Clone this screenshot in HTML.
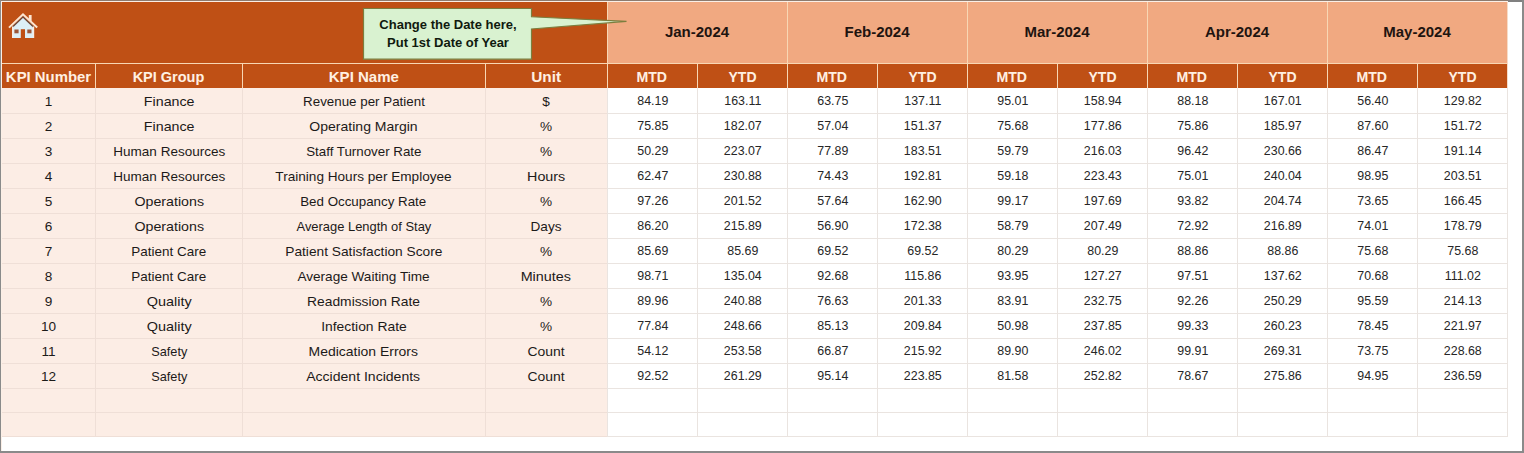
<!DOCTYPE html>
<html><head><meta charset="utf-8"><style>
html,body{margin:0;padding:0;}
body{width:1524px;height:453px;position:relative;overflow:hidden;background:#fff;font-family:"Liberation Sans",sans-serif;}
div{position:absolute;box-sizing:border-box;}
.hd{color:#FFF0E2;font-weight:bold;font-size:14.5px;text-align:center;white-space:nowrap;}
.mo{color:#1E1410;font-weight:bold;font-size:15px;text-align:center;white-space:nowrap;}
.tx{color:#1C1A19;font-size:13.6px;text-align:center;white-space:nowrap;}
.nm{color:#262626;font-size:12.4px;text-align:center;white-space:nowrap;}
.co{color:#101A0E;font-weight:bold;font-size:13px;line-height:18.2px;text-align:center;white-space:nowrap;}
</style></head><body>
<div style="left:2px;top:2px;width:1505px;height:61px;background:#BF5015;"></div><div style="left:607px;top:2px;width:900px;height:61px;background:#F1A981;"></div><div style="left:2px;top:63px;width:1505px;height:25px;background:#BF5015;"></div><div style="left:2px;top:88px;width:605px;height:348px;background:#FCEDE5;"></div><div style="left:0px;top:0px;width:1524px;height:1px;background:#8E7B6E;"></div><div style="left:1508px;top:0px;width:16px;height:2px;background:#808080;"></div><div style="left:0px;top:0px;width:1px;height:453px;background:#8A8A8A;"></div><div style="left:1522px;top:0px;width:2px;height:453px;background:#8A8A8A;"></div><div style="left:0px;top:451px;width:1524px;height:2px;background:#8A8A8A;"></div><div style="left:1px;top:1px;width:1507px;height:1px;background:#FBEFE6;"></div><div style="left:1px;top:1px;width:1px;height:450px;background:#FBEFE6;"></div><div style="left:2px;top:63px;width:1505px;height:1px;background:#F8D7B4;"></div><div style="left:607px;top:2px;width:1px;height:61px;background:#F8D7B4;"></div><div style="left:787px;top:2px;width:1px;height:61px;background:#F8D7B4;"></div><div style="left:967px;top:2px;width:1px;height:61px;background:#F8D7B4;"></div><div style="left:1147px;top:2px;width:1px;height:61px;background:#F8D7B4;"></div><div style="left:1327px;top:2px;width:1px;height:61px;background:#F8D7B4;"></div><div style="left:1507px;top:2px;width:1px;height:86px;background:#F6DCC8;"></div><div style="left:95px;top:63px;width:1px;height:25px;background:#F8D7B4;"></div><div style="left:242px;top:63px;width:1px;height:25px;background:#F8D7B4;"></div><div style="left:485px;top:63px;width:1px;height:25px;background:#F8D7B4;"></div><div style="left:607px;top:63px;width:1px;height:25px;background:#F8D7B4;"></div><div style="left:697px;top:63px;width:1px;height:25px;background:#F8D7B4;"></div><div style="left:787px;top:63px;width:1px;height:25px;background:#F8D7B4;"></div><div style="left:877px;top:63px;width:1px;height:25px;background:#F8D7B4;"></div><div style="left:967px;top:63px;width:1px;height:25px;background:#F8D7B4;"></div><div style="left:1057px;top:63px;width:1px;height:25px;background:#F8D7B4;"></div><div style="left:1147px;top:63px;width:1px;height:25px;background:#F8D7B4;"></div><div style="left:1237px;top:63px;width:1px;height:25px;background:#F8D7B4;"></div><div style="left:1327px;top:63px;width:1px;height:25px;background:#F8D7B4;"></div><div style="left:1417px;top:63px;width:1px;height:25px;background:#F8D7B4;"></div><div style="left:2px;top:113px;width:605px;height:1px;background:#EFDFD7;"></div><div style="left:607px;top:113px;width:901px;height:1px;background:#EAE4E0;"></div><div style="left:2px;top:138px;width:605px;height:1px;background:#EFDFD7;"></div><div style="left:607px;top:138px;width:901px;height:1px;background:#EAE4E0;"></div><div style="left:2px;top:163px;width:605px;height:1px;background:#EFDFD7;"></div><div style="left:607px;top:163px;width:901px;height:1px;background:#EAE4E0;"></div><div style="left:2px;top:188px;width:605px;height:1px;background:#EFDFD7;"></div><div style="left:607px;top:188px;width:901px;height:1px;background:#EAE4E0;"></div><div style="left:2px;top:213px;width:605px;height:1px;background:#EFDFD7;"></div><div style="left:607px;top:213px;width:901px;height:1px;background:#EAE4E0;"></div><div style="left:2px;top:238px;width:605px;height:1px;background:#EFDFD7;"></div><div style="left:607px;top:238px;width:901px;height:1px;background:#EAE4E0;"></div><div style="left:2px;top:263px;width:605px;height:1px;background:#EFDFD7;"></div><div style="left:607px;top:263px;width:901px;height:1px;background:#EAE4E0;"></div><div style="left:2px;top:288px;width:605px;height:1px;background:#EFDFD7;"></div><div style="left:607px;top:288px;width:901px;height:1px;background:#EAE4E0;"></div><div style="left:2px;top:313px;width:605px;height:1px;background:#EFDFD7;"></div><div style="left:607px;top:313px;width:901px;height:1px;background:#EAE4E0;"></div><div style="left:2px;top:338px;width:605px;height:1px;background:#EFDFD7;"></div><div style="left:607px;top:338px;width:901px;height:1px;background:#EAE4E0;"></div><div style="left:2px;top:363px;width:605px;height:1px;background:#EFDFD7;"></div><div style="left:607px;top:363px;width:901px;height:1px;background:#EAE4E0;"></div><div style="left:2px;top:388px;width:605px;height:1px;background:#EFDFD7;"></div><div style="left:607px;top:388px;width:901px;height:1px;background:#EAE4E0;"></div><div style="left:2px;top:412px;width:605px;height:1px;background:#EFDFD7;"></div><div style="left:607px;top:412px;width:901px;height:1px;background:#EAE4E0;"></div><div style="left:2px;top:436px;width:605px;height:1px;background:#EFDFD7;"></div><div style="left:607px;top:436px;width:901px;height:1px;background:#EAE4E0;"></div><div style="left:95px;top:88px;width:1px;height:349px;background:#EFDFD7;"></div><div style="left:242px;top:88px;width:1px;height:349px;background:#EFDFD7;"></div><div style="left:485px;top:88px;width:1px;height:349px;background:#EFDFD7;"></div><div style="left:607px;top:88px;width:1px;height:349px;background:#EAE4E0;"></div><div style="left:697px;top:88px;width:1px;height:349px;background:#EAE4E0;"></div><div style="left:787px;top:88px;width:1px;height:349px;background:#EAE4E0;"></div><div style="left:877px;top:88px;width:1px;height:349px;background:#EAE4E0;"></div><div style="left:967px;top:88px;width:1px;height:349px;background:#EAE4E0;"></div><div style="left:1057px;top:88px;width:1px;height:349px;background:#EAE4E0;"></div><div style="left:1147px;top:88px;width:1px;height:349px;background:#EAE4E0;"></div><div style="left:1237px;top:88px;width:1px;height:349px;background:#EAE4E0;"></div><div style="left:1327px;top:88px;width:1px;height:349px;background:#EAE4E0;"></div><div style="left:1417px;top:88px;width:1px;height:349px;background:#EAE4E0;"></div><div style="left:1507px;top:88px;width:1px;height:349px;background:#EAE4E0;"></div><div class="hd" style="left:2px;top:65.0px;width:93px;height:24px;line-height:24px"><span style="display:inline-block;transform:scaleX(1.0272)">KPI Number</span></div><div class="hd" style="left:95px;top:65.0px;width:147px;height:24px;line-height:24px">KPI Group</div><div class="hd" style="left:242px;top:65.0px;width:243px;height:24px;line-height:24px"><span style="display:inline-block;transform:scaleX(1.0369)">KPI Name</span></div><div class="hd" style="left:485px;top:65.0px;width:122px;height:24px;line-height:24px"><span style="display:inline-block;transform:scaleX(1.0593)">Unit</span></div><div class="hd" style="left:607px;top:65.0px;width:90px;height:24px;line-height:24px"><span style="display:inline-block;transform:scaleX(0.9733)">MTD</span></div><div class="hd" style="left:697px;top:65.0px;width:90px;height:24px;line-height:24px"><span style="display:inline-block;transform:scaleX(0.9679)">YTD</span></div><div class="hd" style="left:787px;top:65.0px;width:90px;height:24px;line-height:24px"><span style="display:inline-block;transform:scaleX(0.9733)">MTD</span></div><div class="hd" style="left:877px;top:65.0px;width:90px;height:24px;line-height:24px"><span style="display:inline-block;transform:scaleX(0.9679)">YTD</span></div><div class="hd" style="left:967px;top:65.0px;width:90px;height:24px;line-height:24px"><span style="display:inline-block;transform:scaleX(0.9733)">MTD</span></div><div class="hd" style="left:1057px;top:65.0px;width:90px;height:24px;line-height:24px"><span style="display:inline-block;transform:scaleX(0.9679)">YTD</span></div><div class="hd" style="left:1147px;top:65.0px;width:90px;height:24px;line-height:24px"><span style="display:inline-block;transform:scaleX(0.9733)">MTD</span></div><div class="hd" style="left:1237px;top:65.0px;width:90px;height:24px;line-height:24px"><span style="display:inline-block;transform:scaleX(0.9679)">YTD</span></div><div class="hd" style="left:1327px;top:65.0px;width:90px;height:24px;line-height:24px"><span style="display:inline-block;transform:scaleX(0.9733)">MTD</span></div><div class="hd" style="left:1417px;top:65.0px;width:90px;height:24px;line-height:24px"><span style="display:inline-block;transform:scaleX(0.9679)">YTD</span></div><div class="mo" style="left:607px;top:1.1px;width:180px;height:61px;line-height:61px">Jan-2024</div><div class="mo" style="left:787px;top:1.1px;width:180px;height:61px;line-height:61px">Feb-2024</div><div class="mo" style="left:967px;top:1.1px;width:180px;height:61px;line-height:61px">Mar-2024</div><div class="mo" style="left:1147px;top:1.1px;width:180px;height:61px;line-height:61px">Apr-2024</div><div class="mo" style="left:1327px;top:1.1px;width:180px;height:61px;line-height:61px">May-2024</div><div class="tx" style="left:2px;top:89.6px;width:93px;height:24px;line-height:24px">1</div><div class="tx" style="left:95.7px;top:89.6px;width:147px;height:24px;line-height:24px"><span style="display:inline-block;transform:scaleX(1.0468)">Finance</span></div><div class="tx" style="left:242px;top:89.6px;width:243px;height:24px;line-height:24px"><span style="display:inline-block;transform:scaleX(0.9828)">Revenue per Patient</span></div><div class="tx" style="left:485px;top:89.6px;width:122px;height:24px;line-height:24px">$</div><div class="nm" style="left:607.8px;top:89.0px;width:90px;height:24px;line-height:24px">84.19</div><div class="nm" style="left:697.8px;top:89.0px;width:90px;height:24px;line-height:24px">163.11</div><div class="nm" style="left:787.8px;top:89.0px;width:90px;height:24px;line-height:24px">63.75</div><div class="nm" style="left:877.8px;top:89.0px;width:90px;height:24px;line-height:24px">137.11</div><div class="nm" style="left:967.8px;top:89.0px;width:90px;height:24px;line-height:24px">95.01</div><div class="nm" style="left:1057.8px;top:89.0px;width:90px;height:24px;line-height:24px">158.94</div><div class="nm" style="left:1147.8px;top:89.0px;width:90px;height:24px;line-height:24px">88.18</div><div class="nm" style="left:1237.8px;top:89.0px;width:90px;height:24px;line-height:24px">167.01</div><div class="nm" style="left:1327.8px;top:89.0px;width:90px;height:24px;line-height:24px">56.40</div><div class="nm" style="left:1417.8px;top:89.0px;width:90px;height:24px;line-height:24px">129.82</div><div class="tx" style="left:2px;top:114.6px;width:93px;height:24px;line-height:24px">2</div><div class="tx" style="left:95.7px;top:114.6px;width:147px;height:24px;line-height:24px"><span style="display:inline-block;transform:scaleX(1.0468)">Finance</span></div><div class="tx" style="left:242px;top:114.6px;width:243px;height:24px;line-height:24px"><span style="display:inline-block;transform:scaleX(1.0311)">Operating Margin</span></div><div class="tx" style="left:485px;top:114.6px;width:122px;height:24px;line-height:24px">%</div><div class="nm" style="left:607.8px;top:114.0px;width:90px;height:24px;line-height:24px">75.85</div><div class="nm" style="left:697.8px;top:114.0px;width:90px;height:24px;line-height:24px">182.07</div><div class="nm" style="left:787.8px;top:114.0px;width:90px;height:24px;line-height:24px">57.04</div><div class="nm" style="left:877.8px;top:114.0px;width:90px;height:24px;line-height:24px">151.37</div><div class="nm" style="left:967.8px;top:114.0px;width:90px;height:24px;line-height:24px">75.68</div><div class="nm" style="left:1057.8px;top:114.0px;width:90px;height:24px;line-height:24px">177.86</div><div class="nm" style="left:1147.8px;top:114.0px;width:90px;height:24px;line-height:24px">75.86</div><div class="nm" style="left:1237.8px;top:114.0px;width:90px;height:24px;line-height:24px">185.97</div><div class="nm" style="left:1327.8px;top:114.0px;width:90px;height:24px;line-height:24px">87.60</div><div class="nm" style="left:1417.8px;top:114.0px;width:90px;height:24px;line-height:24px">151.72</div><div class="tx" style="left:2px;top:139.6px;width:93px;height:24px;line-height:24px">3</div><div class="tx" style="left:95.7px;top:139.6px;width:147px;height:24px;line-height:24px"><span style="display:inline-block;transform:scaleX(0.9946)">Human Resources</span></div><div class="tx" style="left:242px;top:139.6px;width:243px;height:24px;line-height:24px"><span style="display:inline-block;transform:scaleX(0.9802)">Staff Turnover Rate</span></div><div class="tx" style="left:485px;top:139.6px;width:122px;height:24px;line-height:24px">%</div><div class="nm" style="left:607.8px;top:139.0px;width:90px;height:24px;line-height:24px">50.29</div><div class="nm" style="left:697.8px;top:139.0px;width:90px;height:24px;line-height:24px">223.07</div><div class="nm" style="left:787.8px;top:139.0px;width:90px;height:24px;line-height:24px">77.89</div><div class="nm" style="left:877.8px;top:139.0px;width:90px;height:24px;line-height:24px">183.51</div><div class="nm" style="left:967.8px;top:139.0px;width:90px;height:24px;line-height:24px">59.79</div><div class="nm" style="left:1057.8px;top:139.0px;width:90px;height:24px;line-height:24px">216.03</div><div class="nm" style="left:1147.8px;top:139.0px;width:90px;height:24px;line-height:24px">96.42</div><div class="nm" style="left:1237.8px;top:139.0px;width:90px;height:24px;line-height:24px">230.66</div><div class="nm" style="left:1327.8px;top:139.0px;width:90px;height:24px;line-height:24px">86.47</div><div class="nm" style="left:1417.8px;top:139.0px;width:90px;height:24px;line-height:24px">191.14</div><div class="tx" style="left:2px;top:164.6px;width:93px;height:24px;line-height:24px">4</div><div class="tx" style="left:95.7px;top:164.6px;width:147px;height:24px;line-height:24px"><span style="display:inline-block;transform:scaleX(0.9946)">Human Resources</span></div><div class="tx" style="left:242px;top:164.6px;width:243px;height:24px;line-height:24px">Training Hours per Employee</div><div class="tx" style="left:485px;top:164.6px;width:122px;height:24px;line-height:24px"><span style="display:inline-block;transform:scaleX(1.0529)">Hours</span></div><div class="nm" style="left:607.8px;top:164.0px;width:90px;height:24px;line-height:24px">62.47</div><div class="nm" style="left:697.8px;top:164.0px;width:90px;height:24px;line-height:24px">230.88</div><div class="nm" style="left:787.8px;top:164.0px;width:90px;height:24px;line-height:24px">74.43</div><div class="nm" style="left:877.8px;top:164.0px;width:90px;height:24px;line-height:24px">192.81</div><div class="nm" style="left:967.8px;top:164.0px;width:90px;height:24px;line-height:24px">59.18</div><div class="nm" style="left:1057.8px;top:164.0px;width:90px;height:24px;line-height:24px">223.43</div><div class="nm" style="left:1147.8px;top:164.0px;width:90px;height:24px;line-height:24px">75.01</div><div class="nm" style="left:1237.8px;top:164.0px;width:90px;height:24px;line-height:24px">240.04</div><div class="nm" style="left:1327.8px;top:164.0px;width:90px;height:24px;line-height:24px">98.95</div><div class="nm" style="left:1417.8px;top:164.0px;width:90px;height:24px;line-height:24px">203.51</div><div class="tx" style="left:2px;top:189.6px;width:93px;height:24px;line-height:24px">5</div><div class="tx" style="left:95.7px;top:189.6px;width:147px;height:24px;line-height:24px"><span style="display:inline-block;transform:scaleX(1.0462)">Operations</span></div><div class="tx" style="left:242px;top:189.6px;width:243px;height:24px;line-height:24px"><span style="display:inline-block;transform:scaleX(0.9811)">Bed Occupancy Rate</span></div><div class="tx" style="left:485px;top:189.6px;width:122px;height:24px;line-height:24px">%</div><div class="nm" style="left:607.8px;top:189.0px;width:90px;height:24px;line-height:24px">97.26</div><div class="nm" style="left:697.8px;top:189.0px;width:90px;height:24px;line-height:24px">201.52</div><div class="nm" style="left:787.8px;top:189.0px;width:90px;height:24px;line-height:24px">57.64</div><div class="nm" style="left:877.8px;top:189.0px;width:90px;height:24px;line-height:24px">162.90</div><div class="nm" style="left:967.8px;top:189.0px;width:90px;height:24px;line-height:24px">99.17</div><div class="nm" style="left:1057.8px;top:189.0px;width:90px;height:24px;line-height:24px">197.69</div><div class="nm" style="left:1147.8px;top:189.0px;width:90px;height:24px;line-height:24px">93.82</div><div class="nm" style="left:1237.8px;top:189.0px;width:90px;height:24px;line-height:24px">204.74</div><div class="nm" style="left:1327.8px;top:189.0px;width:90px;height:24px;line-height:24px">73.65</div><div class="nm" style="left:1417.8px;top:189.0px;width:90px;height:24px;line-height:24px">166.45</div><div class="tx" style="left:2px;top:214.6px;width:93px;height:24px;line-height:24px">6</div><div class="tx" style="left:95.7px;top:214.6px;width:147px;height:24px;line-height:24px"><span style="display:inline-block;transform:scaleX(1.0462)">Operations</span></div><div class="tx" style="left:242px;top:214.6px;width:243px;height:24px;line-height:24px"><span style="display:inline-block;transform:scaleX(0.9504)">Average Length of Stay</span></div><div class="tx" style="left:485px;top:214.6px;width:122px;height:24px;line-height:24px">Days</div><div class="nm" style="left:607.8px;top:214.0px;width:90px;height:24px;line-height:24px">86.20</div><div class="nm" style="left:697.8px;top:214.0px;width:90px;height:24px;line-height:24px">215.89</div><div class="nm" style="left:787.8px;top:214.0px;width:90px;height:24px;line-height:24px">56.90</div><div class="nm" style="left:877.8px;top:214.0px;width:90px;height:24px;line-height:24px">172.38</div><div class="nm" style="left:967.8px;top:214.0px;width:90px;height:24px;line-height:24px">58.79</div><div class="nm" style="left:1057.8px;top:214.0px;width:90px;height:24px;line-height:24px">207.49</div><div class="nm" style="left:1147.8px;top:214.0px;width:90px;height:24px;line-height:24px">72.92</div><div class="nm" style="left:1237.8px;top:214.0px;width:90px;height:24px;line-height:24px">216.89</div><div class="nm" style="left:1327.8px;top:214.0px;width:90px;height:24px;line-height:24px">74.01</div><div class="nm" style="left:1417.8px;top:214.0px;width:90px;height:24px;line-height:24px">178.79</div><div class="tx" style="left:2px;top:239.6px;width:93px;height:24px;line-height:24px">7</div><div class="tx" style="left:95.7px;top:239.6px;width:147px;height:24px;line-height:24px"><span style="display:inline-block;transform:scaleX(0.9905)">Patient Care</span></div><div class="tx" style="left:242px;top:239.6px;width:243px;height:24px;line-height:24px"><span style="display:inline-block;transform:scaleX(1.0097)">Patient Satisfaction Score</span></div><div class="tx" style="left:485px;top:239.6px;width:122px;height:24px;line-height:24px">%</div><div class="nm" style="left:607.8px;top:239.0px;width:90px;height:24px;line-height:24px">85.69</div><div class="nm" style="left:697.8px;top:239.0px;width:90px;height:24px;line-height:24px">85.69</div><div class="nm" style="left:787.8px;top:239.0px;width:90px;height:24px;line-height:24px">69.52</div><div class="nm" style="left:877.8px;top:239.0px;width:90px;height:24px;line-height:24px">69.52</div><div class="nm" style="left:967.8px;top:239.0px;width:90px;height:24px;line-height:24px">80.29</div><div class="nm" style="left:1057.8px;top:239.0px;width:90px;height:24px;line-height:24px">80.29</div><div class="nm" style="left:1147.8px;top:239.0px;width:90px;height:24px;line-height:24px">88.86</div><div class="nm" style="left:1237.8px;top:239.0px;width:90px;height:24px;line-height:24px">88.86</div><div class="nm" style="left:1327.8px;top:239.0px;width:90px;height:24px;line-height:24px">75.68</div><div class="nm" style="left:1417.8px;top:239.0px;width:90px;height:24px;line-height:24px">75.68</div><div class="tx" style="left:2px;top:264.6px;width:93px;height:24px;line-height:24px">8</div><div class="tx" style="left:95.7px;top:264.6px;width:147px;height:24px;line-height:24px"><span style="display:inline-block;transform:scaleX(0.9905)">Patient Care</span></div><div class="tx" style="left:242px;top:264.6px;width:243px;height:24px;line-height:24px">Average Waiting Time</div><div class="tx" style="left:485px;top:264.6px;width:122px;height:24px;line-height:24px"><span style="display:inline-block;transform:scaleX(1.0565)">Minutes</span></div><div class="nm" style="left:607.8px;top:264.0px;width:90px;height:24px;line-height:24px">98.71</div><div class="nm" style="left:697.8px;top:264.0px;width:90px;height:24px;line-height:24px">135.04</div><div class="nm" style="left:787.8px;top:264.0px;width:90px;height:24px;line-height:24px">92.68</div><div class="nm" style="left:877.8px;top:264.0px;width:90px;height:24px;line-height:24px">115.86</div><div class="nm" style="left:967.8px;top:264.0px;width:90px;height:24px;line-height:24px">93.95</div><div class="nm" style="left:1057.8px;top:264.0px;width:90px;height:24px;line-height:24px">127.27</div><div class="nm" style="left:1147.8px;top:264.0px;width:90px;height:24px;line-height:24px">97.51</div><div class="nm" style="left:1237.8px;top:264.0px;width:90px;height:24px;line-height:24px">137.62</div><div class="nm" style="left:1327.8px;top:264.0px;width:90px;height:24px;line-height:24px">70.68</div><div class="nm" style="left:1417.8px;top:264.0px;width:90px;height:24px;line-height:24px">111.02</div><div class="tx" style="left:2px;top:289.6px;width:93px;height:24px;line-height:24px">9</div><div class="tx" style="left:95.7px;top:289.6px;width:147px;height:24px;line-height:24px"><span style="display:inline-block;transform:scaleX(1.0610)">Quality</span></div><div class="tx" style="left:242px;top:289.6px;width:243px;height:24px;line-height:24px"><span style="display:inline-block;transform:scaleX(1.0165)">Readmission Rate</span></div><div class="tx" style="left:485px;top:289.6px;width:122px;height:24px;line-height:24px">%</div><div class="nm" style="left:607.8px;top:289.0px;width:90px;height:24px;line-height:24px">89.96</div><div class="nm" style="left:697.8px;top:289.0px;width:90px;height:24px;line-height:24px">240.88</div><div class="nm" style="left:787.8px;top:289.0px;width:90px;height:24px;line-height:24px">76.63</div><div class="nm" style="left:877.8px;top:289.0px;width:90px;height:24px;line-height:24px">201.33</div><div class="nm" style="left:967.8px;top:289.0px;width:90px;height:24px;line-height:24px">83.91</div><div class="nm" style="left:1057.8px;top:289.0px;width:90px;height:24px;line-height:24px">232.75</div><div class="nm" style="left:1147.8px;top:289.0px;width:90px;height:24px;line-height:24px">92.26</div><div class="nm" style="left:1237.8px;top:289.0px;width:90px;height:24px;line-height:24px">250.29</div><div class="nm" style="left:1327.8px;top:289.0px;width:90px;height:24px;line-height:24px">95.59</div><div class="nm" style="left:1417.8px;top:289.0px;width:90px;height:24px;line-height:24px">214.13</div><div class="tx" style="left:2px;top:314.6px;width:93px;height:24px;line-height:24px">10</div><div class="tx" style="left:95.7px;top:314.6px;width:147px;height:24px;line-height:24px"><span style="display:inline-block;transform:scaleX(1.0610)">Quality</span></div><div class="tx" style="left:242px;top:314.6px;width:243px;height:24px;line-height:24px"><span style="display:inline-block;transform:scaleX(1.0195)">Infection Rate</span></div><div class="tx" style="left:485px;top:314.6px;width:122px;height:24px;line-height:24px">%</div><div class="nm" style="left:607.8px;top:314.0px;width:90px;height:24px;line-height:24px">77.84</div><div class="nm" style="left:697.8px;top:314.0px;width:90px;height:24px;line-height:24px">248.66</div><div class="nm" style="left:787.8px;top:314.0px;width:90px;height:24px;line-height:24px">85.13</div><div class="nm" style="left:877.8px;top:314.0px;width:90px;height:24px;line-height:24px">209.84</div><div class="nm" style="left:967.8px;top:314.0px;width:90px;height:24px;line-height:24px">50.98</div><div class="nm" style="left:1057.8px;top:314.0px;width:90px;height:24px;line-height:24px">237.85</div><div class="nm" style="left:1147.8px;top:314.0px;width:90px;height:24px;line-height:24px">99.33</div><div class="nm" style="left:1237.8px;top:314.0px;width:90px;height:24px;line-height:24px">260.23</div><div class="nm" style="left:1327.8px;top:314.0px;width:90px;height:24px;line-height:24px">78.45</div><div class="nm" style="left:1417.8px;top:314.0px;width:90px;height:24px;line-height:24px">221.97</div><div class="tx" style="left:2px;top:339.6px;width:93px;height:24px;line-height:24px">11</div><div class="tx" style="left:95.7px;top:339.6px;width:147px;height:24px;line-height:24px"><span style="display:inline-block;transform:scaleX(0.9368)">Safety</span></div><div class="tx" style="left:242px;top:339.6px;width:243px;height:24px;line-height:24px"><span style="display:inline-block;transform:scaleX(1.0276)">Medication Errors</span></div><div class="tx" style="left:485px;top:339.6px;width:122px;height:24px;line-height:24px"><span style="display:inline-block;transform:scaleX(1.0257)">Count</span></div><div class="nm" style="left:607.8px;top:339.0px;width:90px;height:24px;line-height:24px">54.12</div><div class="nm" style="left:697.8px;top:339.0px;width:90px;height:24px;line-height:24px">253.58</div><div class="nm" style="left:787.8px;top:339.0px;width:90px;height:24px;line-height:24px">66.87</div><div class="nm" style="left:877.8px;top:339.0px;width:90px;height:24px;line-height:24px">215.92</div><div class="nm" style="left:967.8px;top:339.0px;width:90px;height:24px;line-height:24px">89.90</div><div class="nm" style="left:1057.8px;top:339.0px;width:90px;height:24px;line-height:24px">246.02</div><div class="nm" style="left:1147.8px;top:339.0px;width:90px;height:24px;line-height:24px">99.91</div><div class="nm" style="left:1237.8px;top:339.0px;width:90px;height:24px;line-height:24px">269.31</div><div class="nm" style="left:1327.8px;top:339.0px;width:90px;height:24px;line-height:24px">73.75</div><div class="nm" style="left:1417.8px;top:339.0px;width:90px;height:24px;line-height:24px">228.68</div><div class="tx" style="left:2px;top:364.6px;width:93px;height:24px;line-height:24px">12</div><div class="tx" style="left:95.7px;top:364.6px;width:147px;height:24px;line-height:24px"><span style="display:inline-block;transform:scaleX(0.9368)">Safety</span></div><div class="tx" style="left:242px;top:364.6px;width:243px;height:24px;line-height:24px"><span style="display:inline-block;transform:scaleX(1.0321)">Accident Incidents</span></div><div class="tx" style="left:485px;top:364.6px;width:122px;height:24px;line-height:24px"><span style="display:inline-block;transform:scaleX(1.0257)">Count</span></div><div class="nm" style="left:607.8px;top:364.0px;width:90px;height:24px;line-height:24px">92.52</div><div class="nm" style="left:697.8px;top:364.0px;width:90px;height:24px;line-height:24px">261.29</div><div class="nm" style="left:787.8px;top:364.0px;width:90px;height:24px;line-height:24px">95.14</div><div class="nm" style="left:877.8px;top:364.0px;width:90px;height:24px;line-height:24px">223.85</div><div class="nm" style="left:967.8px;top:364.0px;width:90px;height:24px;line-height:24px">81.58</div><div class="nm" style="left:1057.8px;top:364.0px;width:90px;height:24px;line-height:24px">252.82</div><div class="nm" style="left:1147.8px;top:364.0px;width:90px;height:24px;line-height:24px">78.67</div><div class="nm" style="left:1237.8px;top:364.0px;width:90px;height:24px;line-height:24px">275.86</div><div class="nm" style="left:1327.8px;top:364.0px;width:90px;height:24px;line-height:24px">94.95</div><div class="nm" style="left:1417.8px;top:364.0px;width:90px;height:24px;line-height:24px">236.59</div>
<svg style="position:absolute;left:0;top:0" width="50" height="50" viewBox="0 0 50 50">
<polygon points="12,27 23,16.5 34,27 34,38 12,38" fill="#DDEFF7"/>
<path d="M12,27.5 L23,17 L34,27.5" fill="none" stroke="#6A4535" stroke-width="1.2"/>
<path d="M9,27.6 L23,14.3 L37.2,27.6" fill="none" stroke="#FCE6D2" stroke-width="2"/>
<rect x="28.8" y="15" width="2.8" height="6" fill="#FCE6D2"/>
<rect x="12" y="26.5" width="1.5" height="11.5" fill="#F6EDE6"/>
<rect x="32.7" y="26.5" width="1.5" height="11.5" fill="#F6EDE6"/>
<rect x="20.8" y="29.2" width="4.2" height="8.8" fill="#BF5015"/>
<rect x="14.4" y="29.5" width="4.2" height="3.8" fill="#9C5638"/>
<rect x="27.3" y="29.5" width="4.2" height="3.8" fill="#9C5638"/>
</svg>
<svg style="position:absolute;left:0;top:0" width="640" height="70">
<path d="M363.5,8.5 H531.5 V16.8 L626.5,21.4 L531.5,29 V59.2 H363.5 Z" fill="#D9F2D0" stroke="#7C7E3E" stroke-width="1.2"/>
</svg>
<div class="co" style="left:364px;top:15.7px;width:168px;">Change the Date here,<br>Put 1st Date of Year</div>
</body></html>
